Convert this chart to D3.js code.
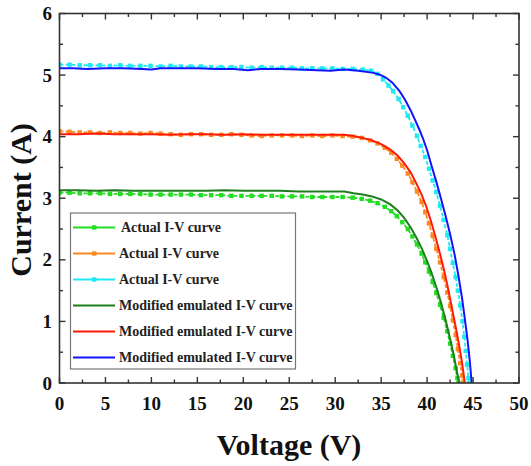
<!DOCTYPE html>
<html>
<head>
<meta charset="utf-8">
<script src="https://cdn.jsdelivr.net/npm/d3@7"></script>
<style>
  body { margin: 0; background: #fff; }
</style>
</head>
<body>
<div class="visHolder"></div>
<script>
// measured I-V data, [voltage, current]
const actualGreen = [
  [0, 3.09], [1.1, 3.09], [2.2, 3.08], [3.3, 3.08], [4.4, 3.08], [5.5, 3.07], [6.6, 3.07], [7.7, 3.07],
  [8.8, 3.07], [9.9, 3.06], [11, 3.06], [12.1, 3.06], [13.2, 3.06], [14.3, 3.06], [15.4, 3.05], [16.5, 3.05],
  [17.6, 3.05], [18.7, 3.04], [19.8, 3.04], [20.9, 3.04], [22, 3.04], [23.1, 3.04], [24.2, 3.03], [25.3, 3.03],
  [26.4, 3.03], [27.5, 3.02], [28.6, 3.02], [29.7, 3.02], [30.8, 3.02], [31.9, 3.01], [32.9, 2.99], [33.8, 2.96],
  [34.6, 2.92], [35.4, 2.86], [36.1, 2.79], [36.7, 2.71], [37.3, 2.61], [37.9, 2.5], [38.4, 2.38], [38.9, 2.25],
  [39.4, 2.1], [39.8, 1.96], [40.2, 1.81], [40.6, 1.64], [41, 1.46], [41.4, 1.27], [41.8, 1.06], [42.2, 0.84],
  [42.5, 0.64], [42.8, 0.44], [43.1, 0.24], [43.3, 0.08], [43.4, 0]
];
const actualOrange = [
  [0, 4.09], [1.1, 4.08], [2.2, 4.07], [3.3, 4.07], [4.4, 4.06], [5.5, 4.07], [6.6, 4.06], [7.7, 4.06],
  [8.8, 4.05], [9.9, 4.06], [11, 4.05], [12.1, 4.04], [13.2, 4.03], [14.3, 4.04], [15.4, 4.04], [16.5, 4.03],
  [17.6, 4.03], [18.7, 4.04], [19.8, 4.03], [20.9, 4.02], [22, 4.01], [23.1, 4.02], [24.2, 4.02], [25.3, 4.02],
  [26.4, 4.01], [27.5, 4.02], [28.6, 4.01], [29.7, 4.02], [30.8, 4.01], [31.9, 4.0], [32.9, 3.98], [33.8, 3.94],
  [34.6, 3.89], [35.4, 3.82], [36.1, 3.74], [36.7, 3.64], [37.3, 3.53], [37.9, 3.4], [38.4, 3.26], [38.9, 3.11],
  [39.4, 2.94], [39.8, 2.77], [40.2, 2.59], [40.6, 2.39], [41, 2.18], [41.4, 1.96], [41.8, 1.72], [42.2, 1.47],
  [42.5, 1.25], [42.8, 1.02], [43.1, 0.78], [43.35, 0.55], [43.6, 0.32], [43.8, 0.12], [43.9, 0]
];
const actualCyan = [
  [0, 5.17], [1.1, 5.17], [2.2, 5.16], [3.3, 5.16], [4.4, 5.16], [5.5, 5.15], [6.6, 5.16], [7.7, 5.15],
  [8.8, 5.15], [9.9, 5.15], [11, 5.14], [12.1, 5.15], [13.2, 5.14], [14.3, 5.14], [15.4, 5.14], [16.5, 5.13],
  [17.6, 5.13], [18.7, 5.13], [19.8, 5.13], [20.9, 5.12], [22, 5.13], [23.1, 5.12], [24.2, 5.12], [25.3, 5.12],
  [26.4, 5.11], [27.5, 5.11], [28.6, 5.11], [29.7, 5.11], [30.8, 5.1], [31.9, 5.1], [33, 5.09], [33.9, 5.07],
  [34.6, 5.02], [35.2, 4.93], [35.8, 4.83], [36.3, 4.74], [36.9, 4.61], [37.4, 4.48], [37.9, 4.34], [38.4, 4.18],
  [38.9, 4.01], [39.3, 3.85], [39.8, 3.67], [40.2, 3.48], [40.6, 3.29], [41, 3.1], [41.4, 2.88], [41.8, 2.65],
  [42.2, 2.4], [42.5, 2.18], [42.8, 1.95], [43.1, 1.72], [43.35, 1.5], [43.6, 1.26], [43.85, 1.0], [44.05, 0.75],
  [44.2, 0.52], [44.35, 0.3], [44.5, 0.08], [44.55, 0]
];

// emulated curves
const emuGreen = [
  [0, 3.13], [2, 3.13], [4, 3.12], [6, 3.13], [8, 3.12], [10, 3.12], [12, 3.12], [14, 3.12], [16, 3.12],
  [18, 3.13], [20, 3.12], [22, 3.12], [24, 3.12], [26, 3.11], [28, 3.11], [30, 3.11], [31, 3.11], [32, 3.08],
  [33, 3.06], [34, 3.03], [35, 2.98], [36, 2.9], [36.8, 2.8], [37.5, 2.68], [38.2, 2.53], [38.8, 2.37],
  [39.4, 2.19], [40, 1.98], [40.5, 1.78], [41, 1.56], [41.5, 1.31], [42, 1.03], [42.5, 0.72], [42.9, 0.45],
  [43.2, 0.22], [43.5, 0]
];
const emuRed = [
  [0, 4.04], [2, 4.04], [4, 4.05], [6, 4.04], [8, 4.04], [10, 4.04], [12, 4.03], [14, 4.04], [16, 4.04],
  [18, 4.03], [20, 4.04], [22, 4.03], [24, 4.03], [26, 4.03], [28, 4.03], [30, 4.03], [31, 4.03], [32, 4.01],
  [33, 3.98], [34, 3.94], [35, 3.88], [36, 3.79], [36.8, 3.69], [37.5, 3.57], [38.2, 3.42], [38.8, 3.25],
  [39.4, 3.06], [39.9, 2.87], [40.4, 2.64], [40.9, 2.38], [41.4, 2.1], [41.9, 1.8], [42.3, 1.52], [42.7, 1.22],
  [43.1, 0.92], [43.5, 0.6], [43.8, 0.33], [44.1, 0]
];
const emuBlue = [
  [0, 5.11], [1.5, 5.11], [3, 5.1], [5, 5.11], [7, 5.11], [9, 5.1], [10, 5.09], [11, 5.11], [13, 5.11],
  [15, 5.11], [17, 5.1], [19, 5.1], [20.5, 5.08], [22, 5.1], [24, 5.1], [26, 5.09], [28, 5.08], [29.5, 5.07],
  [31, 5.09], [32.5, 5.07], [34, 5.04], [34.8, 5.01], [35.5, 4.96], [36.2, 4.88], [37, 4.74], [37.6, 4.6],
  [38.2, 4.43], [38.7, 4.27], [39.2, 4.1], [39.6, 3.95], [40, 3.78], [40.5, 3.52], [41, 3.27], [41.5, 3.0],
  [42, 2.72], [42.5, 2.42], [43, 2.08], [43.4, 1.75], [43.8, 1.38], [44.1, 1.05], [44.4, 0.7], [44.65, 0.35],
  [44.85, 0]
];

const legendLabels = [
  'Actual I-V curve', 'Actual I-V curve', 'Actual I-V curve',
  'Modified emulated I-V curve', 'Modified emulated I-V curve', 'Modified emulated I-V curve'
];
const xTicks = [0, 5, 10, 15, 20, 25, 30, 35, 40, 45, 50];
const yTicks = [0, 1, 2, 3, 4, 5, 6];

const series = [
  { data: actualGreen, color: '#22dd22', actual: true },
  { data: actualOrange, color: '#fb8a22', actual: true },
  { data: actualCyan, color: '#22e8f2', actual: true },
  { data: emuGreen, color: '#1e7d1e', actual: false },
  { data: emuRed, color: '#ff1a06', actual: false },
  { data: emuBlue, color: '#1414fa', actual: false }
];

const width = 531,
  height = 466,
  plotLeft = 59.5,
  plotRight = 519,
  plotTop = 13.5,
  plotBottom = 383;

const serif = "'Liberation Serif', 'DejaVu Serif', serif";

const svg = d3.select('.visHolder')
  .append('svg')
  .attr('width', width)
  .attr('height', height)
  .attr('font-family', serif)
  .attr('font-weight', 'bold');

const x = d3.scaleLinear().domain([0, 50]).range([plotLeft, plotRight]);
const y = d3.scaleLinear().domain([0, 6]).range([plotBottom, plotTop]);

// curves
const line = d3.line()
  .x(d => x(d[0]))
  .y(d => y(d[1]));

svg.append('clipPath').attr('id', 'plot')
  .append('rect')
  .attr('x', plotLeft).attr('y', plotTop)
  .attr('width', plotRight - plotLeft).attr('height', plotBottom - plotTop);

const plot = svg.append('g').attr('clip-path', 'url(#plot)');

series.forEach(s => {
  plot.append('path')
    .datum(s.data)
    .attr('d', line)
    .attr('fill', 'none')
    .attr('stroke', s.color)
    .attr('stroke-width', s.actual ? 1.8 : 2)
    .attr('stroke-dasharray', s.actual ? '4,2' : null);

  if (s.actual) {
    plot.append('g')
      .selectAll('rect')
      .data(s.data)
      .enter()
      .append('rect')
      .attr('x', d => x(d[0]) - 2.2)
      .attr('y', d => y(d[1]) - 2.2)
      .attr('width', 4.4)
      .attr('height', 4.4)
      .attr('fill', s.color);
  }
});

// frame + ticks (inward, mirrored)
const axisColor = '#333';
svg.append('rect')
  .attr('x', plotLeft).attr('y', plotTop)
  .attr('width', plotRight - plotLeft).attr('height', plotBottom - plotTop)
  .attr('fill', 'none')
  .attr('stroke', axisColor)
  .attr('stroke-width', 1.6);

const xMinor = d3.range(2.5, 50, 5);
const yMinor = d3.range(0.5, 6, 1);

function ticksX(vals, len) {
  svg.append('g').selectAll('line').data(vals).enter().append('line')
    .attr('x1', d => x(d)).attr('x2', d => x(d))
    .attr('y1', plotBottom).attr('y2', plotBottom - len)
    .attr('stroke', axisColor).attr('stroke-width', 1.4);
  svg.append('g').selectAll('line').data(vals).enter().append('line')
    .attr('x1', d => x(d)).attr('x2', d => x(d))
    .attr('y1', plotTop).attr('y2', plotTop + len)
    .attr('stroke', axisColor).attr('stroke-width', 1.4);
}
function ticksY(vals, len) {
  svg.append('g').selectAll('line').data(vals).enter().append('line')
    .attr('y1', d => y(d)).attr('y2', d => y(d))
    .attr('x1', plotLeft).attr('x2', plotLeft + len)
    .attr('stroke', axisColor).attr('stroke-width', 1.4);
  svg.append('g').selectAll('line').data(vals).enter().append('line')
    .attr('y1', d => y(d)).attr('y2', d => y(d))
    .attr('x1', plotRight).attr('x2', plotRight - len)
    .attr('stroke', axisColor).attr('stroke-width', 1.4);
}
ticksX(xTicks, 6);
ticksX(xMinor, 3.5);
ticksY(yTicks, 6);
ticksY(yMinor, 3.5);

// tick labels
svg.append('g').selectAll('text').data(xTicks).enter().append('text')
  .attr('x', d => x(d))
  .attr('y', 409.5)
  .attr('text-anchor', 'middle')
  .attr('font-size', 19)
  .attr('fill', '#111')
  .text(d => d);

svg.append('g').selectAll('text').data(yTicks).enter().append('text')
  .attr('x', 52)
  .attr('y', d => y(d))
  .attr('dy', '0.35em')
  .attr('text-anchor', 'end')
  .attr('font-size', 19)
  .attr('fill', '#111')
  .text(d => d);

// axis titles
svg.append('text')
  .attr('x', 289)
  .attr('y', 455)
  .attr('text-anchor', 'middle')
  .attr('font-size', 30)
  .attr('fill', '#111')
  .text('Voltage (V)');

svg.append('text')
  .attr('transform', 'translate(31,200) rotate(-90)')
  .attr('text-anchor', 'middle')
  .attr('font-size', 30)
  .attr('fill', '#111')
  .text('Current (A)');

// legend
const legend = svg.append('g');
legend.append('rect')
  .attr('x', 70.5).attr('y', 213)
  .attr('width', 225).attr('height', 156)
  .attr('fill', '#fff')
  .attr('stroke', '#777')
  .attr('stroke-width', 1.2);

const rows = legend.selectAll('g.row')
  .data(series)
  .enter()
  .append('g')
  .attr('class', 'row')
  .attr('transform', (d, i) => `translate(0, ${227.5 + i * 26})`);

rows.append('line')
  .attr('x1', 73).attr('x2', 115)
  .attr('y1', 0).attr('y2', 0)
  .attr('stroke', d => d.color)
  .attr('stroke-width', 2);

rows.filter(d => d.actual)
  .append('rect')
  .attr('x', 92).attr('y', -2.2)
  .attr('width', 4.4).attr('height', 4.4)
  .attr('fill', d => d.color);

rows.append('text')
  .attr('x', (d, i) => i === 0 ? 121 : 119)
  .attr('y', 0)
  .attr('dy', '0.35em')
  .attr('font-size', 14)
  .attr('fill', '#222')
  .text((d, i) => legendLabels[i]);
</script>
</body>
</html>
